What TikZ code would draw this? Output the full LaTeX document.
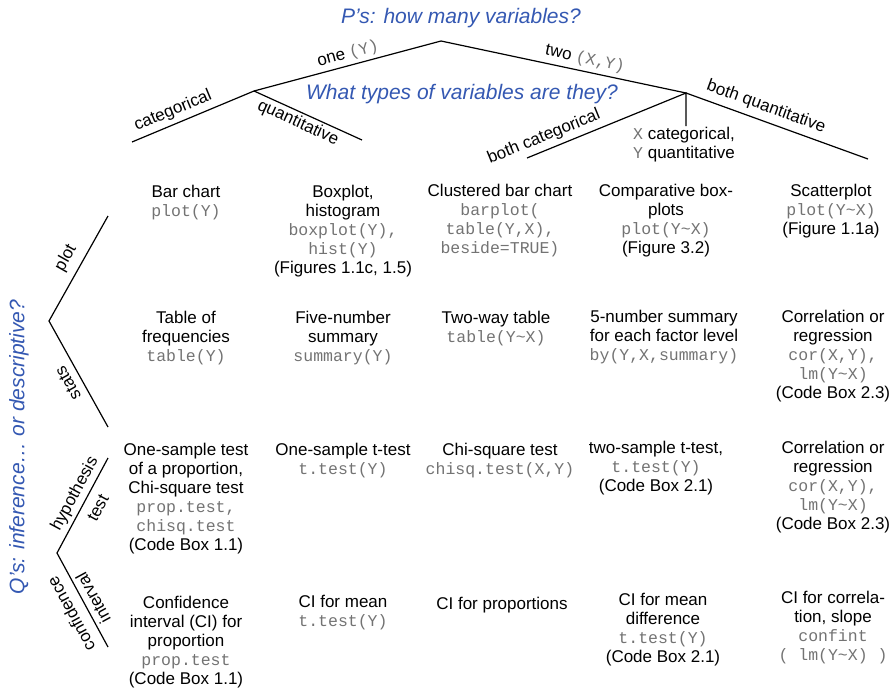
\documentclass[tikz,border=0pt]{standalone}
\usepackage{fontspec}
\setmainfont{Liberation Sans}
\setmonofont{Liberation Mono}
\definecolor{qblue}{RGB}{52,88,178}
\definecolor{codegray}{RGB}{115,115,115}
\newcommand\cd[1]{{\fontsize{16.5}{19}\selectfont\ttfamily\color{codegray}#1}}
\newcommand\tld{\textasciitilde}
\begin{document}
\begin{tikzpicture}[x=1pt,y=-1pt,
  branch/.style={line width=1.2pt, black},
  lbl/.style={inner sep=0pt, font=\fontsize{17}{19}\selectfont},
  cell/.style={anchor=north, align=center, inner sep=0pt, font=\fontsize{17}{19}\selectfont},
  title/.style={inner sep=0pt, text=qblue, font=\fontsize{21}{24}\selectfont\itshape}]
\useasboundingbox (0,0) rectangle (891,688);

% titles
\node[title] (ptitle) at (461,18) {P’s: how many variables?};
\node[title] (wtitle) at (462,94) {What types of variables are they?};
\node[title, rotate=90] (qtitle) at (19,447) {Q’s: inference… or descriptive?};

% top tree
\coordinate (top) at (441,41);
\coordinate (one) at (254,91);
\coordinate (two) at (686,93);
\coordinate (cat1) at (132,142);
\coordinate (quant1) at (362,140);
\coordinate (bcat) at (527,158);
\coordinate (xy) at (686,126);
\coordinate (bquant) at (868,159);
\draw[branch] (cat1) -- (one) -- (top) -- (two) -- (bquant);
\draw[branch] (one) -- (quant1);
\draw[branch] (bcat) -- (two) -- (xy);

\node[lbl, rotate=15] (lone) at (348,54) {one \cd{(Y)}};
\node[lbl, rotate=-12] (ltwo) at (585,59) {two \cd{(X,Y)}};
\node[lbl, rotate=22.7] (lcat) at (173,111) {categorical};
\node[lbl, rotate=-24.4] (lquant) at (298,123) {quantitative};
\node[lbl, rotate=-19.9] (lbq) at (766,107) {both quantitative};
\node[lbl, rotate=22.2] (lbc) at (544,137) {both categorical};
\node[lbl, anchor=north west, align=left] (lxy) at (633,127) {\cd{X} categorical,\\\cd{Y} quantitative};

% left trees
\coordinate (desc) at (49,321);
\coordinate (plotend) at (108,216);
\coordinate (statsend) at (108,427);
\coordinate (inf) at (57,553);
\coordinate (testend) at (108,458);
\coordinate (ciend) at (108,647);
\draw[branch] (plotend) -- (desc) -- (statsend);
\draw[branch] (testend) -- (inf) -- (ciend);

\node[lbl, rotate=60.7] (lplot) at (66,258) {plot};
\node[lbl, rotate=119.3] (lstats) at (68,383) {stats};
\node[lbl, rotate=61.8] (lhyp) at (75,494) {hypothesis};
\node[lbl, rotate=61.8] (ltest) at (98,508) {test};
\node[lbl, rotate=118.5] (lconf) at (71,614) {confidence};
\node[lbl, rotate=118.5] (lint) at (93,598) {interval};

% row 1: plot
\node[cell] (r1c1) at (186,185) {Bar chart\\\cd{plot(Y)}};
\node[cell] (r1c2) at (343,185) {Boxplot,\\histogram\\\cd{boxplot(Y),}\\\cd{hist(Y)}\\(Figures 1.1c, 1.5)};
\node[cell] (r1c3) at (500,184) {Clustered bar chart\\\cd{barplot(}\\\cd{table(Y,X),}\\\cd{beside=TRUE)}};
\node[cell] (r1c4) at (666,184) {Comparative box-\\plots\\\cd{plot(Y\tld X)}\\(Figure 3.2)};
\node[cell] (r1c5) at (831,184) {Scatterplot\\\cd{plot(Y\tld X)}\\(Figure 1.1a)};

% row 2: stats
\node[cell] (r2c1) at (186,311) {Table of\\frequencies\\\cd{table(Y)}};
\node[cell] (r2c2) at (343,311) {Five-number\\summary\\\cd{summary(Y)}};
\node[cell] (r2c3) at (496,311) {Two-way table\\\cd{table(Y\tld X)}};
\node[cell] (r2c4) at (664,310) {5-number summary\\for each factor level\\\cd{by(Y,X,summary)}};
\node[cell] (r2c5) at (833,310) {Correlation or\\regression\\\cd{cor(X,Y),}\\\cd{lm(Y\tld X)}\\(Code Box 2.3)};

% row 3: hypothesis test
\node[cell] (r3c1) at (186,443) {One-sample test\\of a proportion,\\Chi-square test\\\cd{prop.test,}\\\cd{chisq.test}\\(Code Box 1.1)};
\node[cell] (r3c2) at (343,443) {One-sample t-test\\\cd{t.test(Y)}};
\node[cell] (r3c3) at (500,443) {Chi-square test\\\cd{chisq.test(X,Y)}};
\node[cell] (r3c4) at (656,441) {two-sample t-test,\\\cd{t.test(Y)}\\(Code Box 2.1)};
\node[cell] (r3c5) at (833,441) {Correlation or\\regression\\\cd{cor(X,Y),}\\\cd{lm(Y\tld X)}\\(Code Box 2.3)};

% row 4: confidence interval
\node[cell] (r4c1) at (186,596) {Confidence\\interval (CI) for\\proportion\\\cd{prop.test}\\(Code Box 1.1)};
\node[cell] (r4c2) at (343,595) {CI for mean\\\cd{t.test(Y)}};
\node[cell] (r4c3) at (502,597) {CI for proportions};
\node[cell] (r4c4) at (663,593) {CI for mean\\difference\\\cd{t.test(Y)}\\(Code Box 2.1)};
\node[cell] (r4c5) at (833,591) {CI for correla-\\tion, slope\\\cd{confint}\\\cd{( lm(Y\tld X) )}};
\end{tikzpicture}
\end{document}
